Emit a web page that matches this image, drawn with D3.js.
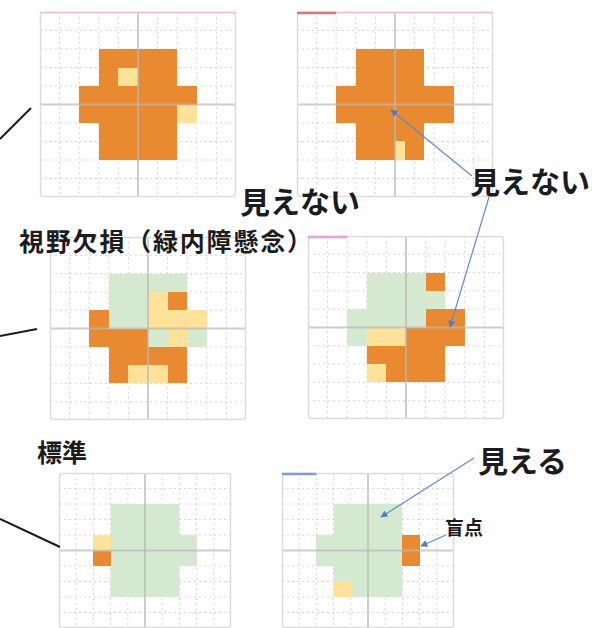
<!DOCTYPE html>
<html><head><meta charset="utf-8">
<script src="https://cdn.jsdelivr.net/npm/d3@7"></script>
<style>
html,body{margin:0;padding:0;background:#fff;}
svg{display:block;font-family:"Noto Sans CJK JP","Noto Sans",sans-serif;}
</style>
</head><body>
<svg id="chart" width="594" height="628"></svg>
<script>
// ---- DATA ----
// Each field: 10 rows x 20 half-cell columns.  O = 見えない, Y = 見えにくい, G = 見える, . = not tested
const statusKeys   = ["G", "Y", "O"];
const statusNames  = ["見える", "見えにくい", "見えない"];
const sectionLabels = ["視野欠損（緑内障懸念）", "標準"];
const calloutLabels = ["見えない", "見えない", "見える", "盲点"];

const fieldAdvancedLeft = [
  "....................",
  "....................",
  "......OOOOOOOO......",
  "......OOYYOOOO......",
  "....OOOOOOOOOOOO....",
  "....OOOOOOOOOOYY....",
  "......OOOOOOOO......",
  "......OOOOOOOO......",
  "....................",
  "...................."
];
const fieldAdvancedRight = [
  "....................",
  "....................",
  "......OOOOOOO.......",
  "......OOOOOOO.......",
  "....OOOOOOOOOOOO....",
  "....OOOOOOOOOOOO....",
  "......OOOOOOO.......",
  "......OOOOYOO.......",
  "....................",
  "...................."
];
const fieldGlaucomaLeft = [
  "....................",
  "....................",
  "......GGGGGGGG......",
  "......GGGGYYOO......",
  "....OOGGGGYYYYYY....",
  "....OOOOOOGGYYGG....",
  "......OOOOOOOO......",
  "......OOYYYYOO......",
  "....................",
  "...................."
];
const fieldGlaucomaRight = [
  "....................",
  "....................",
  "......GGGGGGOO......",
  "......GGGGGGGG......",
  "....GGGGGGGGOOOO....",
  "....GGYYYYOOOOOO....",
  "......OOOOOOOO......",
  "......YYOOOOOO......",
  "....................",
  "...................."
];
const fieldNormalLeft = [
  "....................",
  "....................",
  "......GGGGGGGG......",
  "......GGGGGGGG......",
  "....YYGGGGGGGGGG....",
  "....OOGGGGGGGGGG....",
  "......GGGGGGGG......",
  "......GGGGGGGG......",
  "....................",
  "...................."
];
const fieldNormalRight = [
  "....................",
  "....................",
  "......GGGGGGGG......",
  "......GGGGGGGG......",
  "....GGGGGGGGGGOO....",
  "....GGGGGGGGGGOO....",
  "......GGGGGGGG......",
  "......YYGGGGGG......",
  "....................",
  "...................."
];

// ---- RENDER ----
const svg = d3.select("#chart");
const color = d3.scaleOrdinal().domain(statusKeys).range(["#D5E8D0", "#FFE29A", "#E98A30"]);

const panels = [
  {data: fieldAdvancedLeft,  box: [40, 236, 12, 197],  tag: null, pink: true},
  {data: fieldAdvancedRight, box: [297, 493, 12, 197], tag: {c: "#E0707C", w: 0.2}, pink: true},
  {data: fieldGlaucomaLeft,  box: [50, 246, 237, 420], tag: null},
  {data: fieldGlaucomaRight, box: [308, 504, 236, 419], tag: {c: "#E7A0E7", w: 0.2}},
  {data: fieldNormalLeft,    box: [59, 231, 473, 628], tag: null},
  {data: fieldNormalRight,   box: [282, 454, 473, 628], tag: {c: "#7C9BE2", w: 0.2}}
];

function drawPanel(p) {
  const [x0, x1, y0, y1] = p.box;
  const cols = p.data[0].length, rows = p.data.length;
  const xs = d3.scaleLinear().domain([0, cols]).range([x0, x1]);
  const ys = d3.scaleLinear().domain([0, rows]).range([y0, y1]);
  const g = svg.append("g");

  g.append("rect").attr("x", x0).attr("y", y0).attr("width", x1 - x0).attr("height", y1 - y0)
    .attr("fill", "#fff");

  // minor grid
  const vt = d3.range(2, cols, 2).filter(v => v !== cols / 2);
  const ht = d3.range(1, rows).filter(v => v !== rows / 2);
  g.selectAll(".vg").data(vt).join("line")
    .attr("x1", d => xs(d)).attr("x2", d => xs(d)).attr("y1", y0).attr("y2", y1)
    .attr("stroke", "#d6d6d6").attr("stroke-width", 1).attr("stroke-dasharray", "2,3");
  g.selectAll(".hg").data(ht).join("line")
    .attr("y1", d => ys(d)).attr("y2", d => ys(d)).attr("x1", x0).attr("x2", x1)
    .attr("stroke", "#d6d6d6").attr("stroke-width", 1).attr("stroke-dasharray", "2,3");

  // cells (runs of equal status per row)
  const runs = [];
  p.data.forEach((row, r) => {
    let c = 0;
    while (c < row.length) {
      const ch = row[c]; let e = c;
      while (e < row.length && row[e] === ch) e++;
      if (ch !== ".") runs.push({r, c0: c, c1: e, s: ch});
      c = e;
    }
  });
  g.selectAll(".cell").data(runs).join("rect")
    .attr("x", d => Math.round(xs(d.c0)))
    .attr("width", d => Math.round(xs(d.c1)) - Math.round(xs(d.c0)))
    .attr("y", d => Math.round(ys(d.r)))
    .attr("height", d => Math.round(ys(d.r + 1)) - Math.round(ys(d.r)))
    .attr("fill", d => color(d.s))
    .attr("shape-rendering", "crispEdges");

  // centre axes
  g.append("line").attr("x1", xs(cols / 2)).attr("x2", xs(cols / 2)).attr("y1", y0).attr("y2", y1)
    .attr("stroke", "#b8b8b8").attr("stroke-opacity", 0.7).attr("stroke-width", 2);
  g.append("line").attr("y1", ys(rows / 2)).attr("y2", ys(rows / 2)).attr("x1", x0).attr("x2", x1)
    .attr("stroke", "#b8b8b8").attr("stroke-opacity", 0.7).attr("stroke-width", 2);

  // frame
  g.append("rect").attr("x", x0 + 0.5).attr("y", y0 + 0.5).attr("width", x1 - x0 - 1).attr("height", y1 - y0 - 1)
    .attr("fill", "none").attr("stroke", "#dcdcdc").attr("stroke-width", 1.5).attr("rx", 3);
  if (p.pink) {
    g.append("line").attr("x1", x0).attr("x2", x1).attr("y1", y0 + 0.5).attr("y2", y0 + 0.5)
      .attr("stroke", "#EBC2C6").attr("stroke-width", 1.5);
  }
  if (p.tag) {
    g.append("line").attr("x1", x0).attr("x2", x0 + (x1 - x0) * p.tag.w).attr("y1", y0 + 1).attr("y2", y0 + 1)
      .attr("stroke", p.tag.c).attr("stroke-width", 2.5);
  }
}
panels.forEach(drawPanel);

// connector lines from the left
const connectors = [[[0, 139], [31, 108]], [[0, 336], [37, 329]], [[0, 519], [60, 547]]];
svg.selectAll(".conn").data(connectors).join("line")
  .attr("x1", d => d[0][0]).attr("y1", d => d[0][1]).attr("x2", d => d[1][0]).attr("y2", d => d[1][1])
  .attr("stroke", "#1a1a1a").attr("stroke-width", 2);

// arrows
svg.append("defs").append("marker").attr("id", "ah")
  .attr("viewBox", "0 0 10 10").attr("refX", 9).attr("refY", 5)
  .attr("markerWidth", 9).attr("markerHeight", 7).attr("markerUnits", "userSpaceOnUse")
  .attr("orient", "auto")
  .append("path").attr("d", "M0,0 L10,5 L0,10 z").attr("fill", "#4A7DC4");
const arrows = [[[472, 176], [391, 110]], [[489, 197], [450, 327]], [[474, 458], [381, 517]], [[446, 535], [421, 546]]];
svg.selectAll(".arr").data(arrows).join("line")
  .attr("x1", d => d[0][0]).attr("y1", d => d[0][1]).attr("x2", d => d[1][0]).attr("y2", d => d[1][1])
  .attr("stroke", "#5B8BCB").attr("stroke-width", 1.2).attr("marker-end", "url(#ah)");

// texts
const texts = [
  {t: calloutLabels[0], x: 240, y: 213, s: 30, ls: 0},
  {t: calloutLabels[1], x: 470, y: 193, s: 30, ls: 0},
  {t: sectionLabels[0], x: 19,  y: 251, s: 25, ls: 1.8},
  {t: sectionLabels[1], x: 37,  y: 462, s: 25, ls: 0},
  {t: calloutLabels[2], x: 478, y: 472, s: 30, ls: 0},
  {t: calloutLabels[3], x: 445, y: 535, s: 19, ls: 0}
];
svg.selectAll(".lbl").data(texts).join("text")
  .attr("x", d => d.x).attr("y", d => d.y).attr("font-size", d => d.s)
  .attr("letter-spacing", d => d.ls)
  .attr("font-weight", 700).attr("fill", "#1c1c1c").text(d => d.t);
</script>
</body></html>
